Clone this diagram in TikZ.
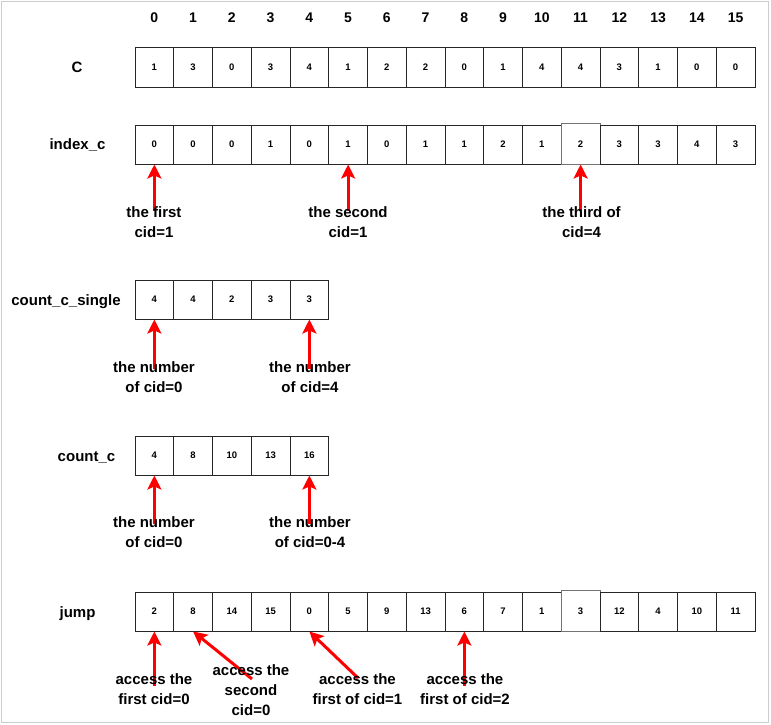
\documentclass[tikz,border=0pt]{standalone}
\usepackage{fontspec}
\setmainfont{Liberation Sans}
\usetikzlibrary{arrows.meta}
\begin{document}
\begin{tikzpicture}[x=1pt,y=-1pt,
  cell/.style={draw=black!85, line width=1pt, minimum width=38.75pt, minimum height=39pt,
    inner sep=0pt, font=\fontsize{9.5}{11}\selectfont\bfseries},
  tallcell/.style={draw=black!55, minimum height=40.5pt},
  header/.style={anchor=base, inner sep=0pt, font=\fontsize{14}{16}\selectfont\bfseries},
  rowlabel/.style={anchor=base, inner sep=0pt, font=\fontsize{15}{17}\selectfont\bfseries},
  note/.style={align=center, anchor=base, inner sep=0pt, font=\fontsize{15}{20}\selectfont\bfseries},
  pointer/.style={draw=red, line width=3pt, -{Stealth[length=14pt,width=14pt,inset=3pt]}}]

\useasboundingbox (0,0) rectangle (771,725);
\draw[black!20, line width=1pt] (1.5,1.5) rectangle (768.5,722.5);

% column indices
\foreach \i in {0,...,15}
  \node[header] (h\i) at ({154.375+\i*38.75}, 23) {\i};

% row labels
\node[rowlabel] (lc)  at (77, 73)    {C};
\node[rowlabel] (lix) at (77.5, 149.5) {index\_c};
\node[rowlabel] (lcs) at (66, 305)   {count\_c\_single};
\node[rowlabel] (lcc) at (86.5, 461)   {count\_c};
\node[rowlabel] (lj)  at (77.5, 617) {jump};

% array C
\foreach \v [count=\i from 0] in {1,3,0,3,4,1,2,2,0,1,4,4,3,1,0,0}
  \node[cell] (c\i) at ({154.375+\i*38.75}, 67.5) {\v};

% array index_c
\foreach \v [count=\i from 0] in {0,0,0,1,0,1,0,1,1,2,1,2,3,3,4,3} {
  \ifnum\i=11
    \node[cell, tallcell] (ix\i) at ({154.375+\i*38.75}, 143.75) {\v};
  \else
    \node[cell] (ix\i) at ({154.375+\i*38.75}, 144.5) {\v};
  \fi
}

% array count_c_single
\foreach \v [count=\i from 0] in {4,4,2,3,3}
  \node[cell] (cs\i) at ({154.375+\i*38.75}, 299.5) {\v};

% array count_c
\foreach \v [count=\i from 0] in {4,8,10,13,16}
  \node[cell] (cc\i) at ({154.375+\i*38.75}, 455.5) {\v};

% array jump
\foreach \v [count=\i from 0] in {2,8,14,15,0,5,9,13,6,7,1,3,12,4,10,11} {
  \ifnum\i=11
    \node[cell, tallcell] (j\i) at ({154.375+\i*38.75}, 610.75) {\v};
  \else
    \node[cell] (j\i) at ({154.375+\i*38.75}, 611.5) {\v};
  \fi
}

% arrow tails
\coordinate (t1) at (154.375, 211);
\coordinate (t2) at (348.125, 211);
\coordinate (t3) at (580.625, 211);
\coordinate (t4) at (154.375, 369);
\coordinate (t5) at (309.375, 369);
\coordinate (t6) at (154.375, 524);
\coordinate (t7) at (309.375, 524);
\coordinate (t8) at (154.375, 686);
\coordinate (t9) at (252, 679);
\coordinate (t10) at (358, 678);
\coordinate (t11) at (464.375, 686);

% pointers
\draw[pointer] (t1) -- (ix0.south);
\draw[pointer] (t2) -- (ix5.south);
\draw[pointer] (t3) -- (ix11.south);
\draw[pointer] (t4) -- (cs0.south);
\draw[pointer] (t5) -- (cs4.south);
\draw[pointer] (t6) -- (cc0.south);
\draw[pointer] (t7) -- (cc4.south);
\draw[pointer] (t8) -- (j0.south);
\draw[pointer] (t9) -- (j1.south);
\draw[pointer] (t10) -- (j4.south);
\draw[pointer] (t11) -- (j8.south);

% annotations (anchored on the baseline of the last line)
\node[note] (n1) at (154, 237) {the first\\cid=1};
\node[note] (n2) at (348, 237) {the second\\cid=1};
\node[note] (n3) at (581.5, 237) {the third of\\cid=4};
\node[note] (n4) at (154, 392.5) {the number\\of cid=0};
\node[note] (n5) at (310, 392.5) {the number\\of cid=4};
\node[note] (n6) at (154, 547.5) {the number\\of cid=0};
\node[note] (n7) at (310, 547.5) {the number\\of cid=0-4};
\node[note] (n8) at (154, 704) {access the\\first cid=0};
\node[note] (n9) at (251, 715.5) {access the\\second\\cid=0};
\node[note] (n10) at (357.5, 704) {access the\\first of cid=1};
\node[note] (n11) at (465, 704) {access the\\first of cid=2};
\end{tikzpicture}
\end{document}
